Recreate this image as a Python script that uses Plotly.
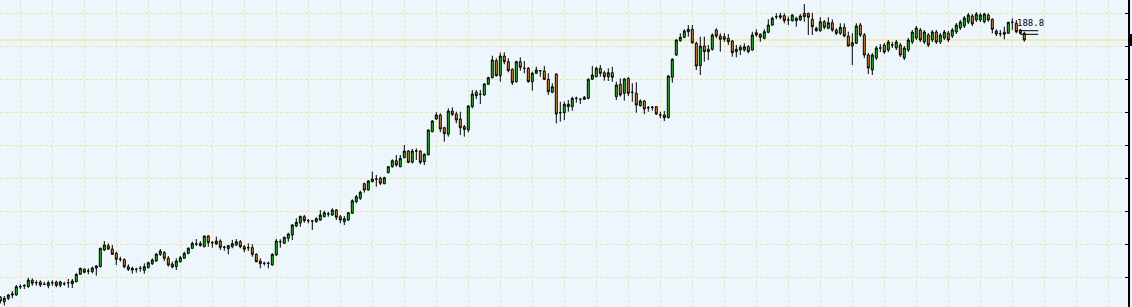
import plotly.graph_objects as go

# OHLC values (price units, one candle per session)
opens = [23, 18.3, 21.7, 25, 25, 33, 34, 33.3, 39.7, 37.3, 38, 35.7, 34.3, 37.3, 38, 34.7, 36.3, 37.3, 36.3, 38.3,
         45.7, 51, 49, 48.3, 52, 53.3, 70, 74.3, 71, 66.7, 60.7, 60.3, 53.3, 51.7, 50.7, 51.7, 49.7, 52.3, 56.3, 59,
         65.7, 67.3, 61.7, 56, 53.3, 58.3, 61.7, 66.7, 71.7, 76, 76.5, 73.3, 84, 77.3, 76, 79, 72.7, 71.3, 73.3, 75,
         78.3, 73.3, 72.3, 72.3, 65.7, 59, 56.7, 56.7, 55, 65, 78.3, 76.7, 81.7, 85, 94, 97, 103.3, 99.3, 99, 98.3,
         100, 103.3, 106, 105, 110, 103.3, 98.3, 100, 106.7, 118.3, 121.7, 136.3, 130, 138.3, 141, 141.7, 136.3, 147.3, 153.3, 159.3,
         153.3, 162.3, 169, 157.7, 169, 169, 158.3, 165, 188.3, 201, 205, 192.3, 185.7, 209, 206, 201, 193.3, 190, 213.3, 227.7,
         225.7, 225, 235.7, 242.3, 259.3, 244.3, 264, 258.3, 250.7, 238.3, 258.3, 251.7, 251.7, 238.3, 246.7, 249.3, 249, 240.7, 227.7, 246,
         207.3, 207.3, 213.3, 213.3, 221.7, 220.7, 220.7, 221.7, 240.7, 243.3, 251.7, 247.3, 243.3, 247.3, 223.3, 235.7, 226.7, 241.7, 227.7, 226.7,
         214.3, 219, 212.3, 212.7, 213.3, 205, 205, 202.3, 242.7, 265, 279.3, 282.7, 288.3, 290.7, 276.7, 254.3, 274, 268.3, 270.7, 290,
         284, 283.3, 281.7, 279, 268.3, 270, 270, 273.3, 270, 287.3, 285.7, 281.7, 287.7, 295, 303.3, 302.7, 304.3, 300, 299.3, 301.7,
         300, 306.7, 306.7, 300.7, 291.7, 289.3, 298.3, 291.7, 297.3, 290, 286.7, 292.7, 284, 274, 276.7, 295, 285, 265, 250, 262,
         272, 275, 270, 275, 272, 275, 262, 270, 278, 282, 290, 278, 285, 280, 288, 278, 282, 287, 284, 288,
         292, 294, 298, 304, 300, 300, 298.3, 305, 300.7, 289, 286.3, 285.7, 286.7, 297.7, 296.7, 290, 286.7]
highs = [24, 24, 26, 29, 35, 35.7, 36, 42.3, 41.7, 39.7, 39.7, 38.3, 39.3, 39.7, 39.3, 39.3, 38.3, 41, 41, 46.7,
         52.3, 51.7, 51.7, 53.3, 55, 72.3, 79, 76.7, 75, 68.3, 63.3, 61.7, 55.7, 53.3, 52.3, 54, 56.7, 58.3, 61.7, 66.7,
         71, 69, 64, 58.3, 61.7, 64, 68.3, 72.7, 78.3, 81, 79, 84.3, 85, 79, 83.3, 80.7, 74.3, 75, 80, 81,
         80, 75, 76.7, 75.7, 66.7, 61.7, 58.3, 58.3, 66.7, 81, 80.7, 83.3, 87.3, 96, 101.7, 104.3, 105, 101, 100, 102.7,
         110, 109.3, 108.3, 111.7, 111, 105, 104, 108, 120.7, 125, 129.3, 137.3, 140, 148.3, 145, 143.3, 143.3, 154, 160.7, 165,
         165, 175, 170, 171, 171.7, 169.5, 166.7, 190.7, 200, 207.7, 206.7, 193.3, 211.7, 212.7, 208.3, 208.3, 195, 215, 230, 230,
         230, 237, 243.3, 264.3, 261.7, 267.3, 267.7, 261.7, 251.7, 259.3, 262.7, 259, 253, 248.3, 253.3, 250, 254, 246.7, 236.7, 246.7,
         218.3, 218.3, 220, 223.3, 223.3, 221.7, 224, 241.7, 254, 253.3, 255, 249.3, 251.7, 253.3, 238.3, 241.7, 241.7, 242.7, 236.7, 237.7,
         220.7, 220, 214, 214, 214, 208.3, 209, 245, 261.7, 280.7, 286.7, 290.7, 295, 295, 278.3, 283.3, 283.3, 275, 286.7, 291.7,
         286.7, 286.7, 286, 280, 275, 275, 276.7, 275, 288.3, 290.7, 286.7, 290.7, 300.7, 303.3, 306.7, 307.3, 306.7, 303.3, 306, 303.3,
         306, 316, 307.3, 307.3, 293.3, 302.7, 300, 302.7, 300.7, 291.7, 296.7, 296.7, 288.3, 286.7, 296.7, 297, 287, 267, 267, 274,
         276, 277, 280, 278, 280, 277, 274, 282, 290, 294, 292, 290, 287, 290, 290, 287, 290, 289, 292, 297,
         300, 304, 307, 306, 308, 307, 307.3, 306.7, 301.7, 290.7, 290, 293.3, 298.3, 301.7, 300, 291, 288.3]
lows = [16.5, 14.5, 20, 21.7, 24.3, 31, 31, 32.3, 34.3, 34.3, 33, 35.3, 31.7, 34.3, 32.7, 32.7, 34.3, 32.3, 32, 37.7,
        45, 46.7, 45.7, 46.7, 44.3, 52.7, 69, 70, 65, 55, 58.3, 51.7, 49, 46.3, 47.3, 48.3, 46.3, 51.7, 55, 58.3,
        64, 59, 53.3, 51.7, 50, 57.3, 61, 65.7, 71, 74, 73.3, 72.7, 73.3, 72.3, 75, 70, 69.3, 65.7, 71.7, 74,
        71.7, 67.7, 69, 63.3, 57.7, 51.7, 54.3, 51.7, 54.3, 64.3, 72.3, 76, 78.3, 80, 92.7, 93.3, 97.3, 96.7, 90, 97.3,
        99, 102.7, 103.3, 104, 100, 96.7, 95, 99, 106, 116.7, 120, 127.3, 129.3, 137.7, 133.3, 135, 135.7, 146.7, 152.3, 153.3,
        152.7, 161.7, 156.7, 156.7, 160, 155.7, 155, 165, 187.7, 200, 187.7, 178.3, 183.3, 204, 196.7, 185, 183.3, 187.7, 211.7, 221,
        216, 224.3, 235, 241.7, 243.3, 238.3, 255.7, 247.7, 235, 237.3, 249.3, 246.7, 237.3, 229.3, 246, 243.3, 240, 225, 226.7, 196.7,
        198.3, 200, 208.3, 209.3, 217.3, 216, 220, 220.7, 240, 242.7, 243.3, 239.3, 239, 238.3, 220, 223.3, 219.3, 224, 218.3, 207.3,
        213.3, 206, 208.3, 209.3, 205, 201.7, 199, 201.7, 237.3, 264, 278.3, 281.7, 283.3, 276, 250, 245, 258.3, 260, 269.3, 281.7,
        268.3, 278.3, 275, 263.3, 262.7, 265, 268.3, 266.7, 269.3, 283.3, 278.3, 280.7, 286.7, 294, 300.7, 300.7, 296.7, 295, 298.3, 293.3,
        299.3, 298.3, 285, 285, 288.3, 288.3, 290.7, 290.7, 288.3, 285, 285, 282.7, 273.3, 255, 276, 283, 262, 246, 245, 260,
        268, 266, 268, 272, 270, 263, 260, 268, 276, 280, 278, 276, 273, 278, 276, 276, 280, 278, 282, 286,
        290, 292, 296, 294, 298, 298, 296.7, 298.3, 286.7, 284, 283.3, 280.7, 286, 290, 286.7, 286, 278.3]
closes = [19, 21.7, 25, 26, 33.3, 33.5, 34.5, 40, 36.7, 37.3, 35, 35.7, 37.3, 37.3, 34.7, 38, 36.3, 37.3, 39, 45.7,
          51.7, 47.7, 49, 52, 54, 71.7, 75, 71, 65.7, 60.7, 60.7, 53.3, 50.7, 50, 50.7, 51.7, 53.3, 57.3, 60, 66,
          69, 61.7, 55, 53, 59, 62.3, 66.7, 71.7, 76.7, 76, 74.5, 84, 77.3, 77.3, 79, 72.7, 72.7, 74.3, 76.3, 78.3,
          73.3, 70.7, 72.3, 65.7, 58.3, 56.3, 56.7, 56.7, 65.7, 79, 78.3, 82.7, 86, 95, 97.7, 103.7, 99.3, 99.3, 99, 101.3,
          105, 107.3, 106, 110, 102.7, 100, 101.3, 107.3, 119.3, 123.3, 127.7, 130, 139, 141, 141, 136.7, 142.3, 153.3, 159.3, 155,
          161.7, 169, 157.7, 169, 169, 157.7, 165.7, 190, 199, 205, 191, 186.3, 209, 205.7, 200, 192.3, 190.7, 214, 226, 224.3,
          225.7, 236, 242.3, 260, 244.3, 264, 258.3, 249.3, 237.3, 258.3, 252.7, 251.7, 238.3, 246.7, 250, 249.3, 240.7, 228.3, 233.3, 206,
          207.3, 215.7, 215.7, 221.7, 221.7, 220.7, 222.7, 240.7, 245, 251.7, 246.7, 243.3, 247.3, 242.7, 235, 225, 241, 226.7, 227.7, 215,
          219, 211, 212.3, 212.7, 206, 205, 202.3, 244, 260.7, 280, 282.7, 289, 290.7, 277.3, 254, 274, 268.3, 270.7, 285, 284,
          280.7, 280.7, 278.3, 267.3, 270.7, 272.7, 273.3, 268.3, 285, 285, 282.7, 288.3, 295, 301.7, 303.3, 304.3, 299.3, 300, 305, 299.3,
          304, 303.3, 302.7, 293.3, 289.3, 298.3, 292.7, 297.3, 290, 286.7, 292.7, 284, 274, 277.3, 294, 285, 265, 252, 265, 272,
          272, 268, 278, 275, 278, 265, 272, 280, 288, 292, 280, 288, 275, 288, 278, 285, 288, 280, 290, 295,
          298, 302, 305, 296, 306, 305, 306, 300, 290.7, 286, 286.3, 287.7, 297.7, 297.7, 288.3, 286.7, 280]
sessions = list(range(len(closes)))

last_label = "188.8"

BG = "#EEF6FD"
GRID = "#F1E4A2"
GREEN = "#00E000"
ORANGE = "#FF8C00"

fig = go.Figure()
fig.add_trace(go.Candlestick(
    x=sessions, open=opens, high=highs, low=lows, close=closes,
    increasing=dict(fillcolor=GREEN, line=dict(color="black", width=1)),
    decreasing=dict(fillcolor=ORANGE, line=dict(color="black", width=1)),
    whiskerwidth=0, showlegend=False, hoverinfo="skip",
))

# last price line
fig.add_shape(type="line", xref="paper", x0=0, x1=1, yref="y", y0=closes[-1], y1=closes[-1],
              line=dict(color="#F2E69C", width=1.5), layer="below")

# last price tag: only its left edge is inside the window
fig.add_shape(type="rect", xref="paper", x0=1.0015, x1=1.01, yref="y",
              y0=closes[-1] - 6, y1=closes[-1] + 6,
              fillcolor="black", line=dict(width=0))

# small data label next to the last candle
fig.add_annotation(x=sessions[-1], y=highs[-1] + 9, xanchor="left", yanchor="middle", xshift=-9,
                   text=last_label, showarrow=False,
                   font=dict(color="black", size=9, family="DejaVu Sans Mono"))
for off in (0, 3.6):
    fig.add_shape(type="line", x0=sessions[-1] - 1, x1=sessions[-1] + 3.5,
                  y0=closes[-1] + 9.3 - off, y1=closes[-1] + 9.3 - off,
                  line=dict(color="black", width=1))

fig.update_layout(
    width=1132, height=307,
    margin=dict(l=0, r=4, t=0, b=0),
    paper_bgcolor=BG, plot_bgcolor=BG,
    xaxis=dict(range=[-0.075, 281.925], rangeslider=dict(visible=False), showgrid=True,
               gridcolor=GRID, griddash="3px,2px", gridwidth=1, tick0=5, dtick=8,
               showticklabels=False, zeroline=False, showline=False),
    yaxis=dict(range=[13, 320], side="right", showgrid=True, gridcolor=GRID, griddash="3px,2px",
               gridwidth=1, tick0=306.7, dtick=33, showticklabels=False, zeroline=False,
               showline=True, linecolor="black", linewidth=1.5, ticks="inside", ticklen=3,
               tickcolor="black"),
)

fig.write_html("out.html")
